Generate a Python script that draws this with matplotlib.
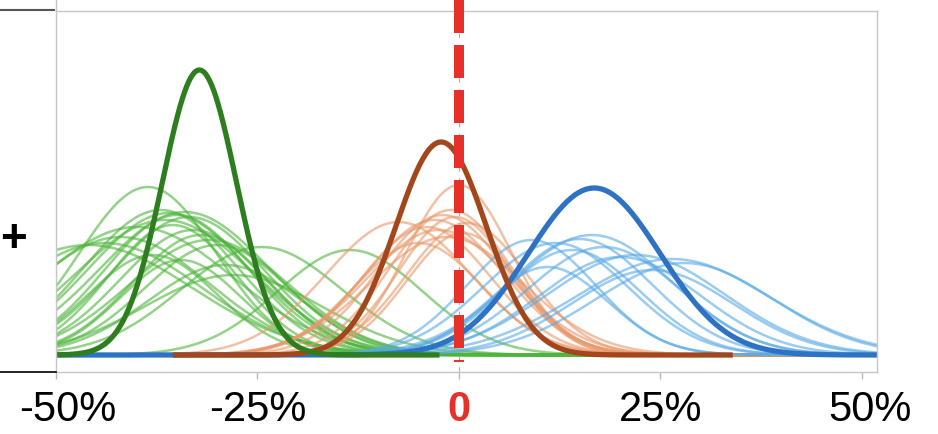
import numpy as np
import matplotlib.pyplot as plt
import matplotlib.transforms as mtransforms
from matplotlib.lines import Line2D

# Fitted return distributions (mean %, spread %, peak height) for each group
green_means = [-38.6, -37.0, -36.0, -35.0, -34.0, -33.5, -36.5, -35.5, -33.0, -32.0,
               -31.0, -30.0, -40.0, -42.0, -44.0, -46.0, -38.0, -34.5, -29.0, -24.5, -13.5, -28.0]
green_sds = [8.5, 9.5, 10.0, 9.0, 10.5, 9.5, 11.0, 8.0, 9.0, 8.5,
             10.0, 9.0, 12.0, 11.0, 12.0, 13.0, 8.0, 7.5, 9.5, 10.0, 9.0, 11.0]
green_peaks = [168, 145, 142, 140, 143, 138, 135, 130, 125, 120,
               115, 110, 128, 118, 112, 110, 100, 95, 90, 108, 105, 80]

orange_means = [0.0, -1.0, -2.0, -0.5, 1.0, -3.0, -7.5, -4.0, -2.5, 0.5, -1.5, -5.0]
orange_sds = [6.5, 7.5, 8.0, 7.0, 7.5, 8.5, 9.0, 8.0, 9.0, 7.0, 9.5, 8.0]
orange_peaks = [170, 145, 140, 138, 132, 135, 133, 128, 125, 122, 118, 112]

blue_means = [16.5, 15.0, 9.0, 12.0, 20.0, 26.5, 28.0, 14.0, 18.0, 22.0, 11.0, 24.0]
blue_sds = [10.0, 9.0, 8.0, 9.0, 10.0, 12.0, 11.0, 8.5, 9.5, 11.0, 7.5, 10.0]
blue_peaks = [120, 116, 115, 112, 98, 96, 92, 105, 108, 100, 88, 85]

# Pooled estimates: (mean, sd, peak, x-range)
pooled_green = (-32.2, 4.6, 285, (-50, -2.4))
pooled_brown = (-2.2, 5.6, 213, (-35.5, 34))
pooled_blue = (16.8, 8.2, 167, (-50, 52))

tick_vals = [-50, -25, 0, 25, 50]
tick_text = ['-50%', '-25%', '0', '25%', '50%']


def bell(lo, hi, mu, sd, peak):
    x = np.linspace(lo, hi, 400)
    return x, peak * np.exp(-0.5 * ((x - mu) / sd) ** 2)


W, H = 938, 434
fig = plt.figure(figsize=(W / 100, H / 100), dpi=100)
ax = fig.add_axes([56 / W, (H - 372) / H, (877 - 56) / W, (372 - 11) / H])

font = ['Liberation Sans', 'DejaVu Sans']

for mus, sds, pks, col in [(green_means, green_sds, green_peaks, '#4DB53B'),
                           (orange_means, orange_sds, orange_peaks, '#E8996A'),
                           (blue_means, blue_sds, blue_peaks, '#58AAE6')]:
    for m, s, p in zip(mus, sds, pks):
        x, y = bell(-50, 52, m, s, p)
        ax.plot(x, y, color=col, lw=1.8, alpha=0.6, solid_capstyle='butt')

for (m, s, p, (lo, hi)), col in [(pooled_blue, '#2E72C3'),
                                 (pooled_brown, '#A4461B'),
                                 (pooled_green, '#2E7D1F')]:
    x, y = bell(lo, hi, m, s, p)
    ax.plot(x, y, color=col, lw=3.8, solid_capstyle='butt', solid_joinstyle='round')

ax.set_xlim(-50, 51.9)
ax.set_ylim(-17, 344)

# faint reference line at zero under the red marker
ax.plot([0, 0], [355, -17], color='#AAAAAA', lw=0.8, ls=(0, (4, 6)), clip_on=False, zorder=4)
red = ax.plot([0, 0], [355, -7], color='#E8302A', lw=7.2, clip_on=False, zorder=5,
              dash_capstyle='butt')[0]
red.set_dashes([3.3, 1.2])

for side in ['left', 'right', 'top', 'bottom']:
    ax.spines[side].set_color('#C6C6C6')
    ax.spines[side].set_linewidth(1.0)

ax.set_yticks([])
ax.set_xticks(tick_vals)
ax.set_xticklabels(tick_text, fontsize=30, family=font)
ax.tick_params(axis='x', direction='out', length=5, width=1, color='#B8B8B8', pad=8)

labels = ax.get_xticklabels()
zero_lbl = labels[tick_vals.index(0)]
zero_lbl.set_color('#E8302A')
zero_lbl.set_fontweight('bold')
for lbl, dx in [(labels[0], 12), (labels[-1], 8)]:
    lbl.set_transform(lbl.get_transform() + mtransforms.ScaledTranslation(dx / 100, 0, fig.dpi_scale_trans))

# bits of the neighbouring panel frame on the left
fig.add_artist(Line2D([0, 54 / W], [1 - 10 / H] * 2, color='#555555', lw=1.5))
fig.add_artist(Line2D([0, 56 / W], [1 - 372 / H] * 2, color='black', lw=1.2))
fig.add_artist(Line2D([56 / W] * 2, [1 - 11 / H, 1], color='#C6C6C6', lw=1.0))
fig.text(13 / W, 1 - 240 / H, '+', fontsize=33, fontweight='bold', ha='center', va='center',
         family=font)

fig.savefig('out.png', dpi=100)
